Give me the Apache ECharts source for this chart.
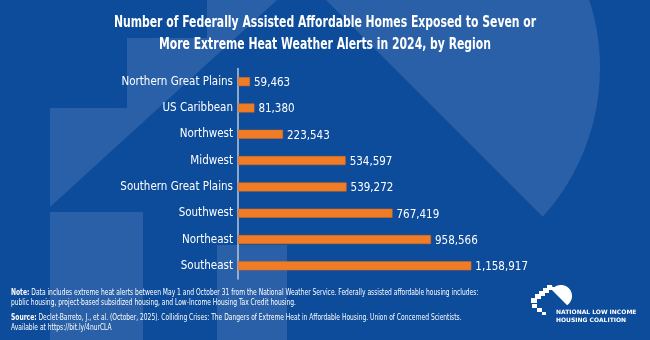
<!DOCTYPE html>
<html>
<head>
<meta charset="utf-8">
<script src="https://cdn.jsdelivr.net/npm/echarts@6/dist/echarts.min.js"></script>
<style>
  html, body { margin: 0; padding: 0; background: #0d4b9b; }
  #chart { width: 650px; height: 340px; }
</style>
</head>
<body>
<div id="chart"></div>
<script>
// Regions, top to bottom as listed
const regions = [
  'Northern Great Plains', 'US Caribbean', 'Northwest', 'Midwest',
  'Southern Great Plains', 'Southwest', 'Northeast', 'Southeast'
];
// Federally assisted affordable homes exposed to 7+ extreme heat alerts
const homes = [59463, 81380, 223543, 534597, 539272, 767419, 958566, 1158917];

const titleLines = [
  'Number of Federally Assisted Affordable Homes Exposed to Seven or',
  'More Extreme Heat Weather Alerts in 2024, by Region'
];
const noteLines = [
  'Data includes extreme heat alerts between May 1 and October 31 from the National Weather Service. Federally assisted affordable housing includes:',
  'public housing, project-based subsidized housing, and Low-Income Housing Tax Credit housing.'
];
const sourceLines = [
  'Declet-Barreto, J., et al. (October, 2025). Colliding Crises: The Dangers of Extreme Heat in Affordable Housing. Union of Concerned Scientists.',
  'Available at https://bit.ly/4nurCLA'
];
const orgLines = ['NATIONAL LOW INCOME', 'HOUSING COALITION'];

const NARROW = '"DejaVu Sans Condensed", "DejaVu Sans", sans-serif';
const WHITE = '#ffffff';
const BAR = '#f07c26';
const SHADE = 'rgba(255,255,255,0.12)';

// Circle clipped to the side of the line x - y = lineOffset, extended above the top edge
function domePoints(cx, cy, r, lineOffset) {
  const pts = [];
  const a = 2, b = -2 * cy + 2 * (lineOffset - cx), c = (lineOffset - cx) ** 2 + cy * cy - r * r;
  const disc = Math.sqrt(b * b - 4 * a * c);
  const yLow = (-b + disc) / (2 * a);
  const xLow = yLow + lineOffset;
  const startAng = Math.atan2(yLow - cy, xLow - cx);
  const endAng = -Math.PI / 2 - 0.6;
  const steps = 60;
  for (let i = 0; i <= steps; i++) {
    const t = startAng + (endAng - startAng) * i / steps;
    pts.push([cx + r * Math.cos(t), cy + r * Math.sin(t)]);
  }
  const last = pts[pts.length - 1];
  pts.push([last[1] + lineOffset, last[1]]);
  pts.push([xLow, yLow]);
  return pts;
}

// Faded house watermark behind the chart
const watermark = [
  { type: 'polygon', silent: true, z: -10,
    shape: { points: [[207, 0], [277, 0], [50, 207], [50, 108], [127, 108], [127, 38], [207, 38]] },
    style: { fill: SHADE } },
  { type: 'rect', silent: true, z: -10, shape: { x: 50, y: 212, width: 93, height: 128 }, style: { fill: SHADE } },
  { type: 'rect', silent: true, z: -10, shape: { x: 217, y: 245, width: 70, height: 95 }, style: { fill: SHADE } },
  { type: 'polygon', silent: true, z: -10,
    shape: { points: domePoints(378, 68, 222, 326) }, style: { fill: SHADE } }
];

// Condensed title lines
const titles = titleLines.map((t, i) => ({
  type: 'text', silent: true, x: 325, y: 23 + i * 22, scaleX: 0.73, originX: 0,
  style: { text: t, fill: WHITE, font: 'bold 16.5px "DejaVu Sans Condensed", sans-serif',
           align: 'center', verticalAlign: 'middle' }
}));

// Small coalition logo, lower right
const logo = [
  { type: 'polygon', silent: true,
    shape: { points: domePoints(561, 296, 11, 262) }, style: { fill: WHITE } },
  { type: 'polygon', silent: true,
    shape: { points: [[531, 303], [531, 298], [535, 298], [535, 294], [539, 294], [539, 291],
                      [543, 291], [543, 288], [547, 288], [547, 285], [552, 285], [553, 290],
                      [549, 290], [549, 293], [545, 293], [545, 296], [541, 296], [541, 299],
                      [537, 299], [537, 303]] },
    style: { fill: WHITE } },
  { type: 'rect', silent: true, shape: { x: 532, y: 304, width: 5, height: 4 }, style: { fill: WHITE } },
  { type: 'rect', silent: true, shape: { x: 537, y: 308, width: 5, height: 4 }, style: { fill: WHITE } },
  { type: 'rect', silent: true, shape: { x: 542, y: 312, width: 4, height: 3 }, style: { fill: WHITE } },
  { type: 'text', silent: true, x: 556, y: 308,
    style: { text: orgLines.join('\n'), fill: WHITE, font: 'bold 6px "DejaVu Sans", sans-serif', lineHeight: 8 } }
];

// Footnotes, condensed horizontally from the left margin
function footBlock(label, lines, y) {
  return {
    type: 'text', silent: true, x: 11, y: y, scaleX: 0.83,
    style: {
      text: '{b|' + label + '} ' + lines[0] + '\n' + lines[1],
      rich: { b: { fontWeight: 'bold', fontSize: 8, fontFamily: NARROW, fill: WHITE } },
      fill: WHITE, fontSize: 8, fontFamily: NARROW, lineHeight: 10
    }
  };
}
const footer = [footBlock('Note:', noteLines, 288), footBlock('Source:', sourceLines, 313)];

const chart = echarts.init(document.getElementById('chart'), null, { renderer: 'canvas' });
chart.setOption({
  backgroundColor: '#0d4b9b',
  animation: false,
  grid: { left: 238, right: 110, top: 68.5, bottom: 61, containLabel: false },
  xAxis: {
    type: 'value', min: 0, max: 1500000,
    show: false, splitLine: { show: false }
  },
  yAxis: {
    type: 'category', inverse: true, data: regions,
    axisLine: { show: true, lineStyle: { color: '#b9c6da', width: 1.5 } },
    axisTick: { show: false },
    axisLabel: { color: WHITE, fontFamily: NARROW, fontSize: 11.5, margin: 5 }
  },
  series: [{
    type: 'bar',
    data: homes,
    barWidth: 9,
    itemStyle: { color: BAR, borderColor: '#d86a1f', borderWidth: 0.5 },
    label: {
      show: true, position: 'right', distance: 4, offset: [0, 1.5],
      color: WHITE, fontFamily: NARROW, fontSize: 11.5,
      formatter: p => p.value.toLocaleString('en-US')
    }
  }],
  graphic: [...watermark, ...titles, ...footer, ...logo]
});
</script>
</body>
</html>
